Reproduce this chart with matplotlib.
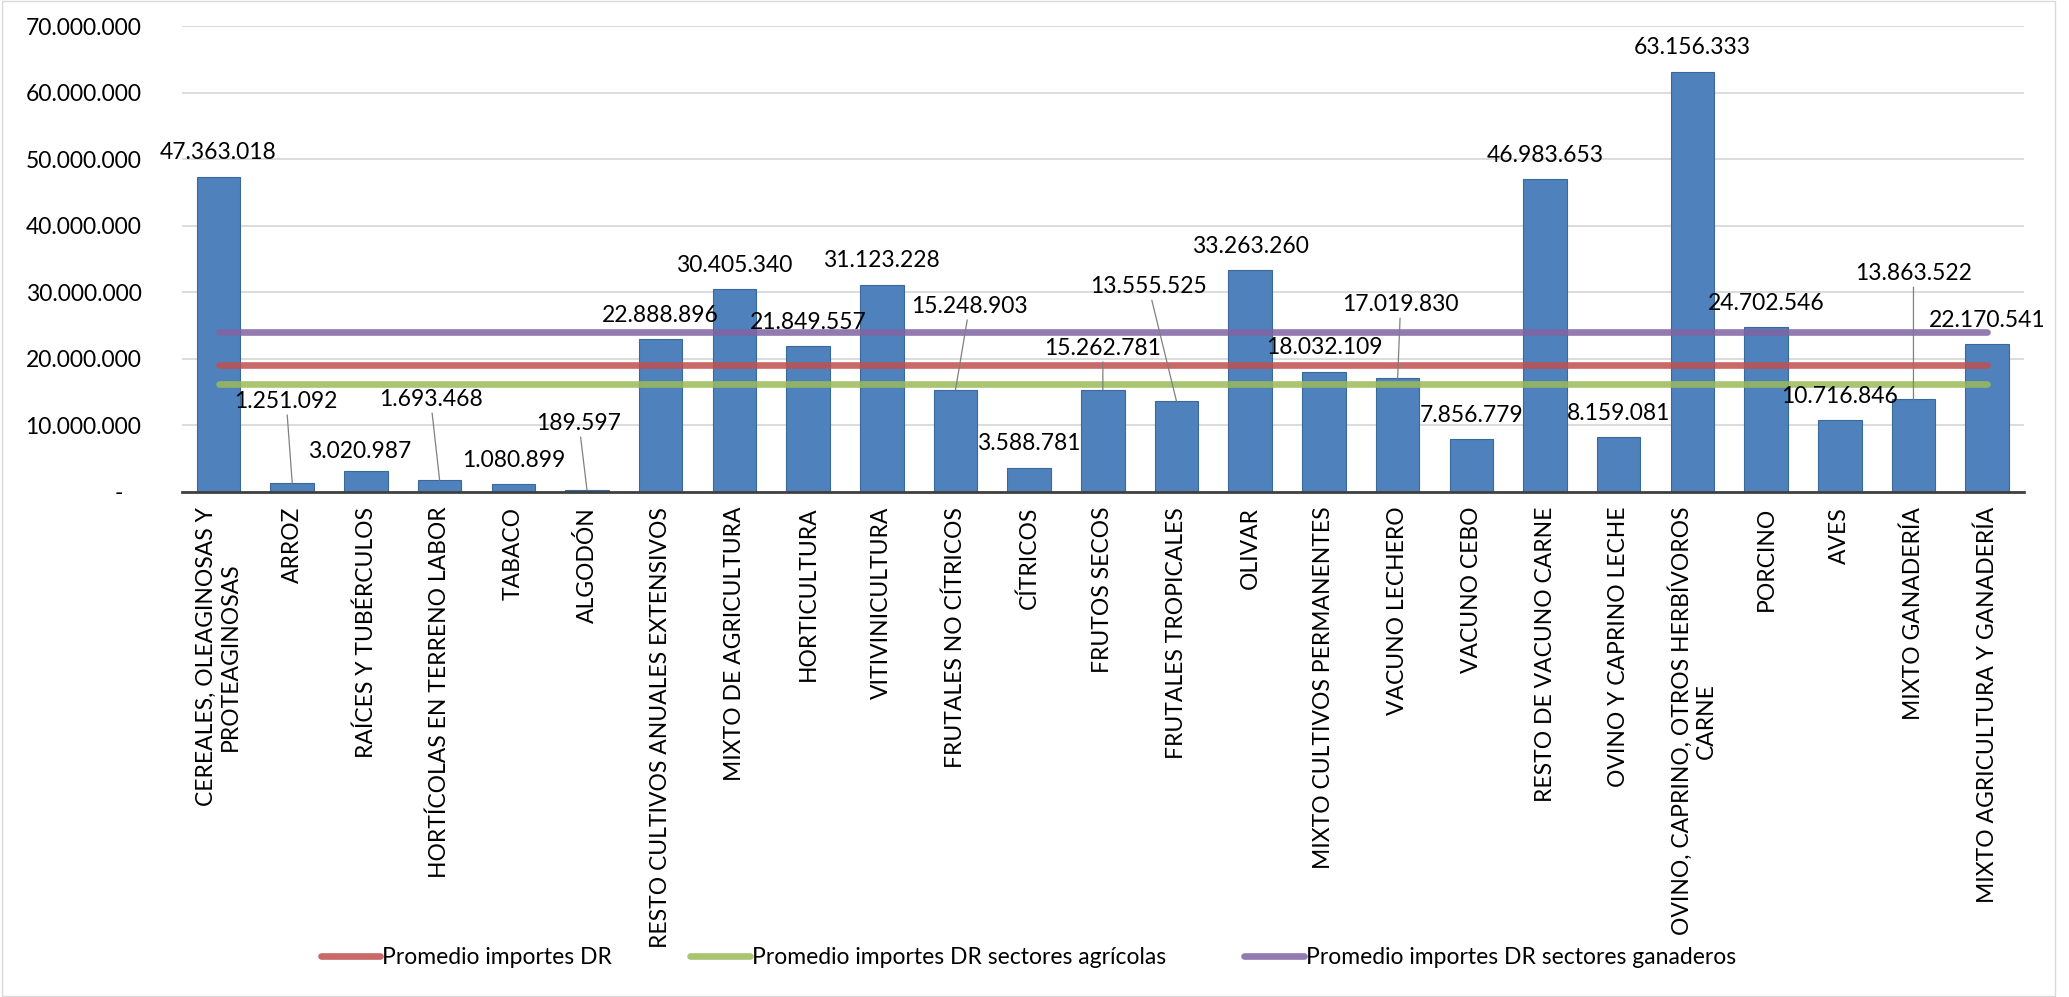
import matplotlib
matplotlib.use("Agg")
import matplotlib.pyplot as plt
from matplotlib.lines import Line2D
from matplotlib.patches import Rectangle
from matplotlib.ticker import FuncFormatter
import numpy as np

plt.rcParams['font.family'] = ['Lato', 'DejaVu Sans']

# importes DR por sector (OTE)
categorias = [
    "CEREALES, OLEAGINOSAS Y\nPROTEAGINOSAS", "ARROZ", "RAÍCES Y TUBÉRCULOS",
    "HORTÍCOLAS EN TERRENO LABOR", "TABACO", "ALGODÓN",
    "RESTO CULTIVOS ANUALES EXTENSIVOS", "MIXTO DE AGRICULTURA", "HORTICULTURA",
    "VITIVINICULTURA", "FRUTALES NO CÍTRICOS", "CÍTRICOS", "FRUTOS SECOS",
    "FRUTALES TROPICALES", "OLIVAR", "MIXTO CULTIVOS PERMANENTES",
    "VACUNO LECHERO", "VACUNO CEBO", "RESTO DE VACUNO CARNE",
    "OVINO Y CAPRINO LECHE", "OVINO, CAPRINO, OTROS HERBÍVOROS\nCARNE",
    "PORCINO", "AVES", "MIXTO GANADERÍA", "MIXTO AGRICULTURA Y GANADERÍA",
]
importes = [
    47363018, 1251092, 3020987, 1693468, 1080899, 189597, 22888896, 30405340,
    21849557, 31123228, 15248903, 3588781, 15262781, 13555525, 33263260,
    18032109, 17019830, 7856779, 46983653, 8159081, 63156333, 24702546,
    10716846, 13863522, 22170541,
]
n_agricolas = 16   # los 16 primeros son sectores agricolas
n_ganaderos = 8    # los 8 siguientes ganaderos, el ultimo es mixto

series = ["Promedio importes DR",
          "Promedio importes DR sectores agrícolas",
          "Promedio importes DR sectores ganaderos"]
colores = ['#C0504D', '#9BBB59', '#8064A2']

FS = 16.5


def puntos(v):
    return f"{int(v):,}".replace(",", ".")


x = np.arange(len(categorias))
imp = np.array(importes, dtype=float)
medias = [imp.mean(),
          imp[:n_agricolas].mean(),
          imp[n_agricolas:n_agricolas + n_ganaderos].mean()]

fig = plt.figure(figsize=(20.69, 9.97), dpi=100)
ax = fig.add_axes([181.7 / 2069, 1 - 491.5 / 997, (2024 - 181.7) / 2069, (491.5 - 26) / 997])

ax.bar(x, importes, width=0.59, color='#4F81BD', edgecolor='#3A6899', linewidth=0.8, zorder=2)

for m, c in zip(medias, colores):
    ax.plot([x[0], x[-1]], [m, m], color=c, lw=4.8, alpha=0.85,
            solid_capstyle='round', zorder=3)

# etiquetas de datos: desplazamiento en pixeles de la linea base sobre la barra
desplaz = {1: (-6, 75), 2: (-6, 13), 3: (-9, 74), 5: (-8, 60), 10: (14, 77),
           12: (0, 35), 13: (-28, 108), 16: (3, 67), 23: (0, 119)}
con_guia = {1, 3, 5, 10, 12, 13, 16, 23}
for i, v in enumerate(importes):
    dx, dy = desplaz.get(i, (0, 17.5))
    props = None
    if i in con_guia:
        props = dict(arrowstyle='-', color='#808080', lw=0.9, shrinkA=0, shrinkB=0)
    ax.annotate(puntos(v), xy=(i, v), xytext=(dx, dy), textcoords='offset pixels',
                ha='center', va='baseline', fontsize=FS, color='black',
                arrowprops=props, zorder=5)

ax.set_xlim(-0.5, len(categorias) - 0.5)
ax.set_ylim(0, 70000000)
ax.set_yticks(np.arange(0, 70000001, 10000000))
ax.yaxis.set_major_formatter(FuncFormatter(lambda v, p: "-   " if v == 0 else puntos(v)))
ax.yaxis.grid(True, color='#D9D9D9', linewidth=1.3)
ax.set_axisbelow(True)

ax.set_xticks(x)
ax.set_xticklabels(categorias, rotation=90, ha='center', va='top', multialignment='center')
ax.tick_params(axis='x', length=0, pad=11, labelsize=FS)
ax.tick_params(axis='y', length=0, pad=29, labelsize=FS)

for s in ['left', 'right', 'top']:
    ax.spines[s].set_visible(False)
ax.spines['bottom'].set_color('#404040')
ax.spines['bottom'].set_linewidth(2.0)
ax.spines['bottom'].set_zorder(4)

handles = [Line2D([0], [0], color=c, lw=4.8, alpha=0.85, solid_capstyle='round')
           for c in colores]
fig.legend(handles, series, loc='center', bbox_to_anchor=(0.497, 0.040), ncol=3,
           frameon=False, fontsize=FS, handlelength=2.6, handletextpad=0.1,
           columnspacing=3.4)

fig.patches.append(Rectangle((2 / 2069, 1 / 997), (2055 - 2) / 2069, 995 / 997,
                             transform=fig.transFigure, fill=False,
                             edgecolor='#D9D9D9', lw=1))

fig.savefig('out.png', dpi=100)
